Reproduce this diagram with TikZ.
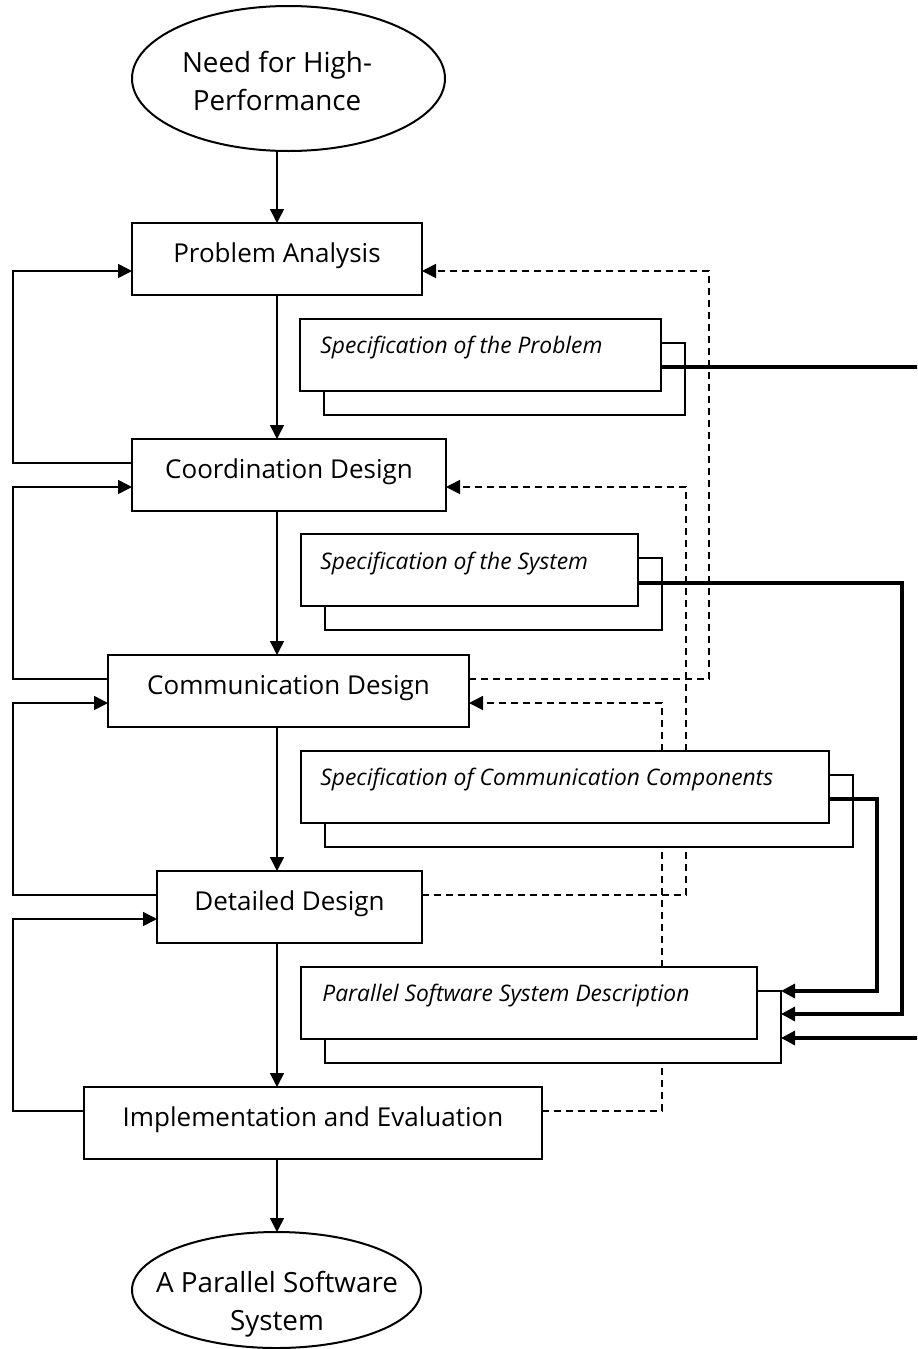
\documentclass[tikz,border=0pt]{standalone}
\usepackage{fontspec}
\setmainfont{Open Sans}
\usetikzlibrary{arrows.meta,calc,shapes.geometric}
\pgfdeclarelayer{bg}
\pgfsetlayers{bg,main}

\begin{document}
\begin{tikzpicture}[x=0.5pt,y=-0.5pt,
  tip/.style={-{Triangle[length=7pt,width=7pt]}},
  mainbox/.style={draw, line width=1.2pt, fill=white, minimum height=36pt,
    inner sep=0pt, outer sep=0pt, font=\fontsize{13pt}{16pt}\selectfont,
    text height=9pt, text depth=6pt},
  specbox/.style={draw, line width=1pt, fill=white, minimum height=36pt,
    inner sep=0pt, outer sep=0pt, anchor=north west},
  spectext/.style={anchor=base west, inner sep=0pt,
    font=\fontsize{11.4pt}{13pt}\selectfont\itshape},
  oval/.style={draw, ellipse, line width=1pt, inner sep=0pt, outer sep=0pt},
  ovaltext/.style={align=center, inner sep=0pt, font=\fontsize{13.9pt}{19pt}\selectfont},
  flow/.style={line width=0.8pt, tip},
  loopback/.style={line width=0.8pt, dash pattern=on 3.5pt off 2.5pt, tip},
  feed/.style={line width=1.6pt, tip},
]
\useasboundingbox (0,0) rectangle (917,1349);
\clip (0,0) rectangle (917,1349);

% guide coordinates for the vertical runs
\coordinate (col) at (277,0);
\coordinate (lx) at (13,0);
\coordinate (dx1) at (709,0);
\coordinate (dx2) at (686,0);
\coordinate (dx3) at (662,0);
\coordinate (rx1) at (945,0);
\coordinate (rx2) at (902,0);
\coordinate (rx3) at (877,0);

% start and end ovals
\node[oval, minimum width=156.5pt, minimum height=72.5pt] (need) at (288.5,78.5) {};
\node[ovaltext] (needtxt) at (277,80.5) {Need for High-\\Performance};
\node[oval, minimum width=144.5pt, minimum height=58pt] (result) at (276.5,1290) {};
\node[ovaltext] (resulttxt) at (277,1304) {A Parallel Software\\System};

% process steps
\node[mainbox, minimum width=145pt] (pa) at (277,259) {Problem Analysis};
\node[mainbox, minimum width=157pt] (cod) at (289,475) {Coordination Design};
\node[mainbox, minimum width=180.5pt] (cmd) at (288.5,691) {Communication Design};
\node[mainbox, minimum width=132.5pt] (dd) at (289.5,907) {Detailed Design};
\node[mainbox, minimum width=229pt] (impl) at (313,1123) {Implementation and Evaluation};

% document stacks
\node[specbox, minimum width=180.5pt] (s1b) at (324,343) {};
\node[specbox, minimum width=180.5pt] (s1) at (300,319) {};
\node[spectext] (s1t) at ($(s1.north west)+(20,34)$) {Specification of the Problem};

\node[specbox, minimum width=168.5pt] (s2b) at (325,558) {};
\node[specbox, minimum width=168.5pt] (s2) at (301,534) {};
\node[spectext] (s2t) at ($(s2.north west)+(19,35)$) {Specification of the System};

\node[specbox, minimum width=264pt] (s3b) at (325,775) {};
\node[specbox, minimum width=264pt] (s3) at (301,751) {};
\node[spectext] (s3t) at ($(s3.north west)+(19,34)$) {Specification of Communication Components};

\node[specbox, minimum width=228pt] (s4b) at (325,991) {};
\node[specbox, minimum width=228pt] (s4) at (301,967) {};
\node[spectext] (s4t) at ($(s4.north west)+(21,34)$) {Parallel Software System Description};

% main flow
\draw[flow] (col |- need.south) -- (col |- pa.north);
\draw[flow] (col |- pa.south) -- (col |- cod.north);
\draw[flow] (col |- cod.south) -- (col |- cmd.north);
\draw[flow] (col |- cmd.south) -- (col |- dd.north);
\draw[flow] (col |- dd.south) -- (col |- impl.north);
\draw[flow] (col |- impl.south) -- (col |- result.north);

% iteration loops on the left
\draw[flow] ($(cod.north west)+(0,24)$) coordinate (l1) -- (l1 -| lx) |- ($(pa.north west)+(0,48)$);
\draw[flow] ($(cmd.north west)+(0,24)$) coordinate (l2) -- (l2 -| lx) |- ($(cod.north west)+(0,48)$);
\draw[flow] ($(dd.north west)+(0,24)$) coordinate (l3) -- (l3 -| lx) |- ($(cmd.north west)+(0,48)$);
\draw[flow] ($(impl.north west)+(0,24)$) coordinate (l4) -- (l4 -| lx) |- ($(dd.north west)+(0,48)$);

% feedback two steps back, running behind the document stacks
\begin{pgfonlayer}{bg}
\draw[loopback] ($(cmd.north east)+(0,24)$) coordinate (d1) -- (d1 -| dx1) |- ($(pa.north east)+(0,48)$);
\draw[loopback] ($(dd.north east)+(0,24)$) coordinate (d2) -- (d2 -| dx2) |- ($(cod.north east)+(0,48)$);
\draw[loopback] ($(impl.north east)+(0,24)$) coordinate (d3) -- (d3 -| dx3) |- ($(cmd.north east)+(0,48)$);
\end{pgfonlayer}

% specifications feeding the system description
\draw[feed] ($(s1.north east)+(0,48)$) coordinate (f1) -- (f1 -| rx1) |- ($(s4b.north east)+(0,47)$);
\draw[feed] ($(s2.north east)+(0,49)$) coordinate (f2) -- (f2 -| rx2) |- ($(s4b.north east)+(0,23)$);
\draw[feed] ($(s3.north east)+(0,48)$) coordinate (f3) -- (f3 -| rx3) |- (s4b.north east);
\end{tikzpicture}
\end{document}
